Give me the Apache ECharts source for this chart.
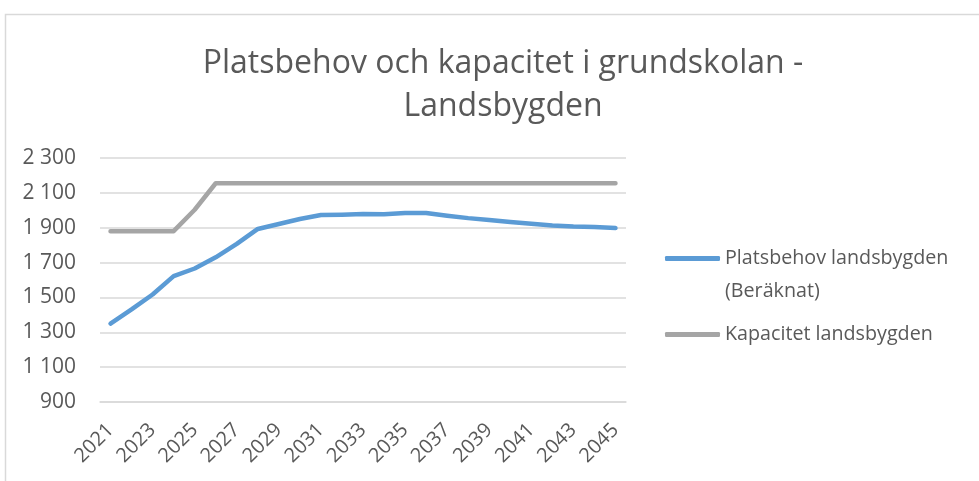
<!DOCTYPE html>
<html>
<head>
<meta charset="utf-8">
<script src="https://cdn.jsdelivr.net/npm/echarts@6/dist/echarts.min.js"></script>
<style>
html,body{margin:0;padding:0;background:#fff;}
#c{width:979px;height:481px;}
</style>
</head>
<body>
<div id="c"></div>
<script>
const years = ["2021","2022","2023","2024","2025","2026","2027","2028","2029","2030","2031","2032","2033","2034","2035","2036","2037","2038","2039","2040","2041","2042","2043","2044","2045"];
const platsbehov = [1350,1431,1517,1622,1666,1730,1807,1893,1921,1950,1973,1975,1978,1977,1984,1984,1969,1955,1944,1933,1923,1913,1907,1904,1898];
const kapacitet = [1880,1880,1880,1880,2003,2155,2155,2155,2155,2155,2155,2155,2155,2155,2155,2155,2155,2155,2155,2155,2155,2155,2155,2155,2155];
const seriesNames = ["Platsbehov landsbygden (Beräknat)","Kapacitet landsbygden"];
const titleText = "Platsbehov och kapacitet i grundskolan -\nLandsbygden";

const chart = echarts.init(document.getElementById('c'), null, {renderer:'canvas'});
const FONT = '"Open Sans"';
const TXT = '#595959';
chart.setOption({
  animation:false,
  backgroundColor:'#fff',
  graphic:[
    {type:'polyline', shape:{points:[[5.5,481],[5.5,14.5],[979,14.5]]}, style:{stroke:'#d9d9d9', lineWidth:1.5, fill:null}}
  ],
  title:{
    text:titleText, top:37, left:498, textAlign:'center',
    textStyle:{fontFamily:FONT, fontSize:32, fontWeight:'normal', color:TXT, lineHeight:43}
  },
  legend:[
    {
      orient:'vertical', left:665, top:209, padding:0,
      data:[{name:seriesNames[0], icon:'roundRect'}],
      itemWidth:55, itemHeight:5,
      formatter:function(n){return '\nPlatsbehov landsbygden\n(Beräknat)';},
      textStyle:{fontFamily:FONT, fontSize:19.7, color:TXT, lineHeight:33},
      itemGap:4
    },
    {
      orient:'vertical', left:665, top:318, padding:0,
      data:[{name:seriesNames[1], icon:'roundRect'}],
      itemWidth:55, itemHeight:5,
      textStyle:{fontFamily:FONT, fontSize:19.7, color:TXT, lineHeight:33},
      itemGap:4
    }
  ],
  grid:{left:100, right:353, top:158, bottom:79, containLabel:false},
  xAxis:{
    type:'category', data:years, boundaryGap:true,
    axisLine:{lineStyle:{color:'#d9d9d9', width:1.5}},
    axisTick:{show:false},
    axisLabel:{interval:1, rotate:45, fontFamily:FONT, fontSize:20, color:TXT, margin:25}
  },
  yAxis:{
    type:'value', min:900, max:2300, interval:200,
    axisLine:{show:false}, axisTick:{show:false},
    splitLine:{lineStyle:{color:'#d9d9d9', width:1.5}},
    axisLabel:{fontFamily:FONT, fontSize:21, color:TXT, margin:24,
      formatter:function(v){ return v>=1000 ? Math.floor(v/1000)+' '+String(v%1000).padStart(3,'0') : String(v); }}
  },
  series:[
    {name:seriesNames[0], type:'line', data:platsbehov, symbol:'none',
      lineStyle:{color:'#5B9BD5', width:4.5, cap:'round', join:'round'}, itemStyle:{color:'#5B9BD5'}},
    {name:seriesNames[1], type:'line', data:kapacitet, symbol:'none',
      lineStyle:{color:'#A5A5A5', width:4.5, cap:'round', join:'round'}, itemStyle:{color:'#A5A5A5'}}
  ]
});
</script>
</body>
</html>
